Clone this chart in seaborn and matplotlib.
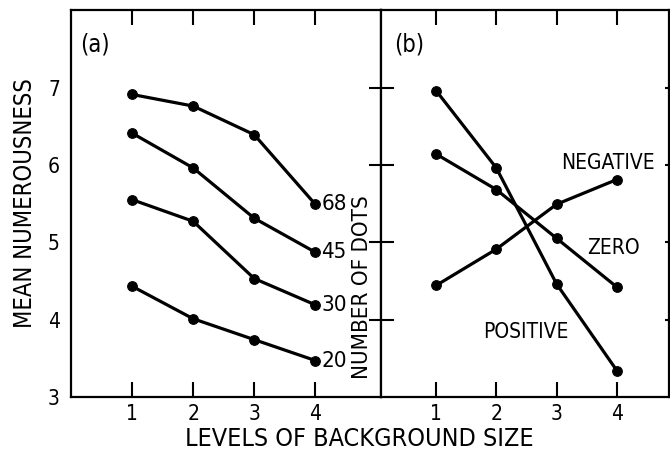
import numpy as np
import pandas as pd
import matplotlib
matplotlib.use('Agg')
import matplotlib.pyplot as plt
import seaborn as sns

# Data
levels = [1, 2, 3, 4]

# panel (a): number of dots
dots_labels = ['68', '45', '30', '20']
dots_68 = [6.91, 6.76, 6.39, 5.49]
dots_45 = [6.41, 5.96, 5.31, 4.87]
dots_30 = [5.55, 5.27, 4.53, 4.19]
dots_20 = [4.43, 4.01, 3.74, 3.47]

# panel (b): correlation
corr_labels = ['POSITIVE', 'ZERO', 'NEGATIVE']
corr_positive = [6.96, 5.96, 4.46, 3.34]
corr_zero = [6.14, 5.68, 5.05, 4.42]
corr_negative = [4.44, 4.91, 5.49, 5.81]

y_ticks = [3, 4, 5, 6, 7]

sns.set_style('white')
plt.rcParams['font.family'] = ['DejaVu Sans']
plt.rcParams['font.stretch'] = 'condensed'
plt.rcParams['text.color'] = 'black'
plt.rcParams['xtick.color'] = 'black'
plt.rcParams['ytick.color'] = 'black'
plt.rcParams['axes.labelcolor'] = 'black'

df_a = pd.DataFrame({
    'level': levels * 4,
    'value': dots_68 + dots_45 + dots_30 + dots_20,
    'group': sum([[g] * 4 for g in dots_labels], []),
})
df_b = pd.DataFrame({
    'level': levels * 3,
    'value': corr_positive + corr_zero + corr_negative,
    'group': sum([[g] * 4 for g in corr_labels], []),
})

fig = plt.figure(figsize=(6.7, 4.62), dpi=100)
ax1 = fig.add_axes([0.106, 0.141, 0.463, 0.837])
ax2 = fig.add_axes([0.569, 0.141, 0.429, 0.837])

style = dict(color='black', marker='o', markersize=7, linewidth=2.3,
             markeredgecolor='black', estimator=None, legend=False)

for g in dots_labels:
    sns.lineplot(data=df_a[df_a['group'] == g], x='level', y='value', ax=ax1, **style)
for g in corr_labels:
    sns.lineplot(data=df_b[df_b['group'] == g], x='level', y='value', ax=ax2, **style)

for ax in (ax1, ax2):
    ax.set_ylim(3, 8)
    for s in ax.spines.values():
        s.set_color('black')
        s.set_linewidth(1.6)
    ax.set_xlabel('')
    ax.set_ylabel('')

ax1.set_xlim(0, 5.08)
ax2.set_xlim(0.09, 4.86)

# panel (a) ticks
ax1.set_xticks(levels)
ax1.set_xticklabels([str(v) for v in levels], fontsize=15)
ax1.set_yticks(y_ticks)
ax1.set_yticklabels([str(v) for v in y_ticks], fontsize=15)
ax1.tick_params(axis='x', direction='in', length=11, width=1.5, top=True, bottom=True, pad=5)
ax1.tick_params(axis='y', length=0, left=True, right=False, pad=8)

# panel (b) ticks
ax2.set_xticks(levels)
ax2.set_xticklabels([str(v) for v in levels], fontsize=15)
ax2.set_yticks([4, 5, 6, 7])
ax2.set_yticklabels([])
ax2.tick_params(axis='x', direction='in', length=11, width=1.5, top=True, bottom=True, pad=5)
ax2.tick_params(axis='y', direction='inout', length=18, width=1.5, left=True, right=True)
for t in ax2.yaxis.get_major_ticks():
    t.tick2line.set_markersize(6)

# line labels
for g, vals in zip(dots_labels, [dots_68, dots_45, dots_30, dots_20]):
    ax1.text(levels[-1] + 0.1, vals[-1], g, fontsize=16, va='center', ha='left')

ax1.text(4.76, 4.42, 'NUMBER OF DOTS', rotation=90, fontsize=16,
         va='center', ha='center')
ax1.text(0.15, 7.55, '(a)', fontsize=17, va='center', ha='left')
ax2.text(0.31, 7.55, '(b)', fontsize=17, va='center', ha='left')

ax2.text(3.86, 6.02, 'NEGATIVE', fontsize=15, va='center', ha='center')
ax2.text(3.94, 4.92, 'ZERO', fontsize=15, va='center', ha='center')
ax2.text(2.49, 3.84, 'POSITIVE', fontsize=15, va='center', ha='center')

ax1.set_ylabel('MEAN NUMEROUSNESS', fontsize=17, labelpad=8)
fig.text(0.537, 0.05, 'LEVELS OF BACKGROUND SIZE', fontsize=18, ha='center', va='center')

fig.savefig('out.png', dpi=100)
